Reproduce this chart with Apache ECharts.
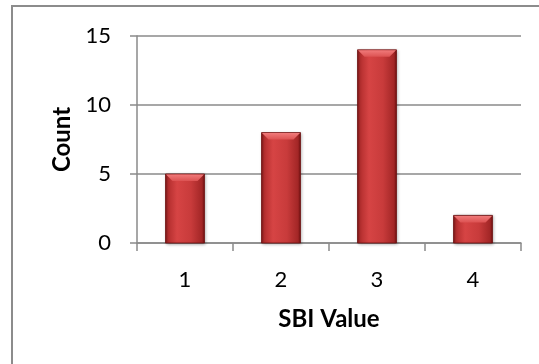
<!DOCTYPE html>
<html>
<head>
<meta charset="utf-8">
<script src="https://cdn.jsdelivr.net/npm/echarts@6/dist/echarts.min.js"></script>
<style>
  html, body { margin: 0; padding: 0; background: #fff; }
  #chart { width: 539px; height: 364px; }
</style>
</head>
<body>
<div id="chart"></div>
<script>
// SBI value distribution
const categories = ['1', '2', '3', '4'];
const counts = [5, 8, 14, 2];
const yTicks = { min: 0, max: 15, interval: 5 };

const FONT = 'Lato, "Open Sans", sans-serif';
const GRID_GRAY = '#8a8a8a';
const BAR_RATIO = 0.406;   // bar width as a share of the category band
const BEVEL = 7;           // height of the lit top facet, px

const chart = echarts.init(document.getElementById('chart'), null, { renderer: 'canvas' });

// Cylinder-like shading across each bar body
function bodyFill() {
  return new echarts.graphic.LinearGradient(0, 0, 1, 0, [
    { offset: 0, color: '#7a1414' },
    { offset: 0.07, color: '#b32e2e' },
    { offset: 0.3, color: '#d64444' },
    { offset: 0.65, color: '#c83b3b' },
    { offset: 0.93, color: '#a22626' },
    { offset: 1, color: '#6a0f0f' }
  ]);
}
function bevelFill() {
  return new echarts.graphic.LinearGradient(0, 0, 0, 1, [
    { offset: 0, color: '#f07a7a' },
    { offset: 1, color: '#dc5252' }
  ]);
}

function renderBar(params, api) {
  const idx = api.value(0);
  const val = api.value(1);
  const top = api.coord([idx, val]);
  const base = api.coord([idx, 0]);
  const w = api.size([1, 0])[0] * BAR_RATIO;
  const x0 = top[0] - w / 2;
  const x1 = top[0] + w / 2;
  const y0 = top[1];
  const y1 = base[1];
  const b = Math.min(BEVEL, (y1 - y0) / 2);
  return {
    type: 'group',
    children: [
      {
        type: 'rect',
        shape: { x: x0, y: y0, width: w, height: y1 - y0 },
        style: {
          fill: bodyFill(),
          stroke: '#701212',
          lineWidth: 0.8,
          shadowColor: 'rgba(0,0,0,0.35)',
          shadowBlur: 3,
          shadowOffsetX: 1,
          shadowOffsetY: 1
        }
      },
      {
        type: 'polygon',
        shape: { points: [[x0 + 0.5, y0 + 0.5], [x1 - 0.5, y0 + 0.5], [x1 - b, y0 + b], [x0 + b, y0 + b]] },
        style: { fill: bevelFill() }
      }
    ]
  };
}

chart.setOption({
  animation: false,
  backgroundColor: '#ffffff',
  graphic: [{
    type: 'rect',
    shape: { x: 12, y: 6, width: 700, height: 500 },
    style: { fill: 'none', stroke: '#8c8c8c', lineWidth: 2 },
    silent: true,
    z: 0
  }],
  grid: { left: 137, right: 18, top: 36, bottom: 121, containLabel: false },
  xAxis: {
    type: 'category',
    data: categories,
    name: 'SBI Value',
    nameLocation: 'middle',
    nameGap: 64,
    nameTextStyle: { fontFamily: FONT, fontSize: 24, fontWeight: 'bold', color: '#000' },
    axisLine: { show: true, lineStyle: { color: GRID_GRAY, width: 1.5 } },
    axisTick: { show: true, length: 8, lineStyle: { color: GRID_GRAY, width: 1.5 } },
    axisLabel: { fontFamily: FONT, fontSize: 22, color: '#000', margin: 26 },
    splitLine: { show: false }
  },
  yAxis: {
    type: 'value',
    min: yTicks.min,
    max: yTicks.max,
    interval: yTicks.interval,
    name: 'Count',
    nameLocation: 'middle',
    nameRotate: 90,
    nameGap: 63,
    nameTextStyle: { fontFamily: FONT, fontSize: 24, fontWeight: 'bold', color: '#000' },
    axisLine: { show: true, lineStyle: { color: GRID_GRAY, width: 1.5 } },
    axisTick: { show: true, length: 7, lineStyle: { color: GRID_GRAY, width: 1.5 } },
    axisLabel: { fontFamily: FONT, fontSize: 22, color: '#000', margin: 26 },
    splitLine: { show: true, lineStyle: { color: GRID_GRAY, width: 1.5 } }
  },
  series: [{
    type: 'custom',
    renderItem: renderBar,
    data: counts.map((v, i) => [i, v]),
    encode: { x: 0, y: 1 },
    z: 3
  }]
});
</script>
</body>
</html>
